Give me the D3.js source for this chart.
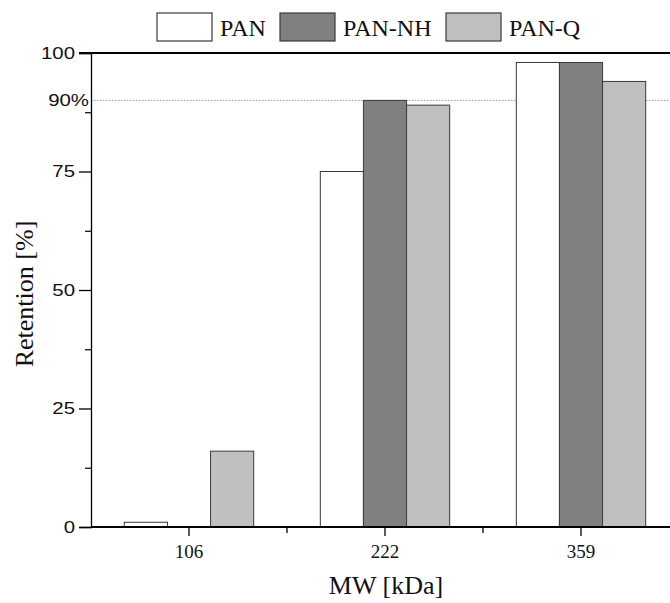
<!DOCTYPE html>
<html><head><meta charset="utf-8">
<script src="https://cdn.jsdelivr.net/npm/d3@7"></script>
<style>body{margin:0;background:#fff}svg{display:block}
.serif{font-family:"Liberation Serif","Times New Roman",Times,serif}
.sans{font-family:"Liberation Sans",Arial,Helvetica,sans-serif}
</style>
</head><body>
<script>
const categories = ["106", "222", "359"];
const seriesNames = ["PAN", "PAN-NH", "PAN-Q"];
const PAN = [1, 75, 98];
const PAN_NH = [0, 90, 98];
const PAN_Q = [16, 89, 94];
const yTicks = [0, 25, 50, 75, 100];
const refLine = 90;
const colors = ["#ffffff", "#808080", "#c0c0c0"];

(function () {
const W = 670, H = 603;
const svg = d3.select("body").append("svg").attr("width", W).attr("height", H);
const mLeft = 91, mRight = 679, mTop = 53, mBottom = 527;
const stretch = 1.2, labelOff = 16;

const x0 = d3.scaleBand().domain(categories).range([mLeft, mRight]).padding(0);
const groupW = x0.step() * 0.66;
const x1 = d3.scaleBand().domain(seriesNames).range([-groupW / 2, groupW / 2]).padding(0);
const y = d3.scaleLinear().domain([0, 100]).range([mBottom, mTop]);

const series = [PAN, PAN_NH, PAN_Q];

// reference 90% line
svg.append("line").attr("x1", mLeft).attr("x2", W).attr("y1", y(refLine)).attr("y2", y(refLine))
  .attr("stroke", "#999").attr("stroke-width", 1).attr("stroke-dasharray", "1.5,1.5");

// bars
series.forEach((vals, si) => {
  svg.append("g").selectAll("rect").data(vals).join("rect")
    .attr("x", (d, i) => x0(categories[i]) + x0.bandwidth() / 2 + x1(seriesNames[si]))
    .attr("width", x1.bandwidth())
    .attr("y", d => y(d))
    .attr("height", d => y(0) - y(d))
    .attr("fill", colors[si])
    .attr("stroke", "#3a3a3a").attr("stroke-width", 1);
});

// y axis
const yAxis = svg.append("g").attr("transform", `translate(${mLeft},0)`)
  .call(d3.axisLeft(y).tickValues(yTicks).tickSize(12).tickPadding(4));
yAxis.attr("font-family", null).attr("font-size", null);
yAxis.select(".domain").attr("stroke", "#000").attr("stroke-width", 1.3);
yAxis.selectAll(".tick line").attr("stroke", "#000").attr("stroke-width", 1.3);
yAxis.selectAll(".tick text").attr("class", "sans").style("font-size", "17px").attr("fill", "#111")
  .attr("x", -labelOff / stretch).attr("transform", `scale(${stretch},1)`);
// minor ticks
svg.append("g").attr("transform", `translate(${mLeft},0)`)
  .call(d3.axisLeft(y).tickValues([12.5, 37.5, 62.5, 87.5]).tickSize(6).tickFormat(""))
  .call(g => g.select(".domain").remove())
  .selectAll("line").attr("stroke", "#000").attr("stroke-width", 1.2);
// 90% label
svg.append("g").attr("transform", `translate(${mLeft - 2},${y(refLine)}) scale(${stretch},1)`)
  .append("text").attr("dy", "0.35em")
  .attr("text-anchor", "end").attr("class", "sans")
  .style("font-size", "17px").attr("fill", "#111").text(refLine + "%");

// top frame line
svg.append("line").attr("x1", mLeft - 12).attr("x2", W).attr("y1", y(100)).attr("y2", y(100))
  .attr("stroke", "#000").attr("stroke-width", 2);

// x axis
const xAxis = svg.append("g").attr("transform", `translate(0,${mBottom})`)
  .call(d3.axisBottom(x0).tickSize(9).tickPadding(9));
xAxis.attr("font-family", null).attr("font-size", null);
xAxis.select(".domain").remove();
svg.append("line").attr("x1", mLeft).attr("x2", W).attr("y1", mBottom).attr("y2", mBottom)
  .attr("stroke", "#000").attr("stroke-width", 2);
xAxis.selectAll(".tick line").attr("stroke", "#000").attr("stroke-width", 1.3);
xAxis.selectAll(".tick text").attr("class", "serif").style("font-size", "19px").attr("fill", "#111");
// x minor ticks at band boundaries
svg.append("g").selectAll("line").data(categories.slice(1)).join("line")
  .attr("x1", d => x0(d)).attr("x2", d => x0(d)).attr("y1", mBottom).attr("y2", mBottom + 6)
  .attr("stroke", "#000").attr("stroke-width", 1.3);

// axis titles
svg.append("text").attr("x", 386).attr("y", 594).attr("text-anchor", "middle")
  .attr("class", "serif").style("font-size", "26px").attr("fill", "#111")
  .text("MW [kDa]");
svg.append("text").attr("transform", `translate(33,294) rotate(-90)`)
  .attr("text-anchor", "middle").attr("class", "serif")
  .style("font-size", "26px").attr("fill", "#111").text("Retention [%]");

// legend
const legendX = [157, 280, 446];
const lg = svg.append("g");
seriesNames.forEach((n, i) => {
  lg.append("rect").attr("x", legendX[i]).attr("y", 13).attr("width", 55).attr("height", 28)
    .attr("fill", colors[i]).attr("stroke", "#3a3a3a").attr("stroke-width", 1.2);
  lg.append("text").attr("x", legendX[i] + 63).attr("y", 36)
    .attr("class", "serif").style("font-size", "24px").attr("fill", "#111")
    .text(n);
});
})();
</script>
</body></html>
